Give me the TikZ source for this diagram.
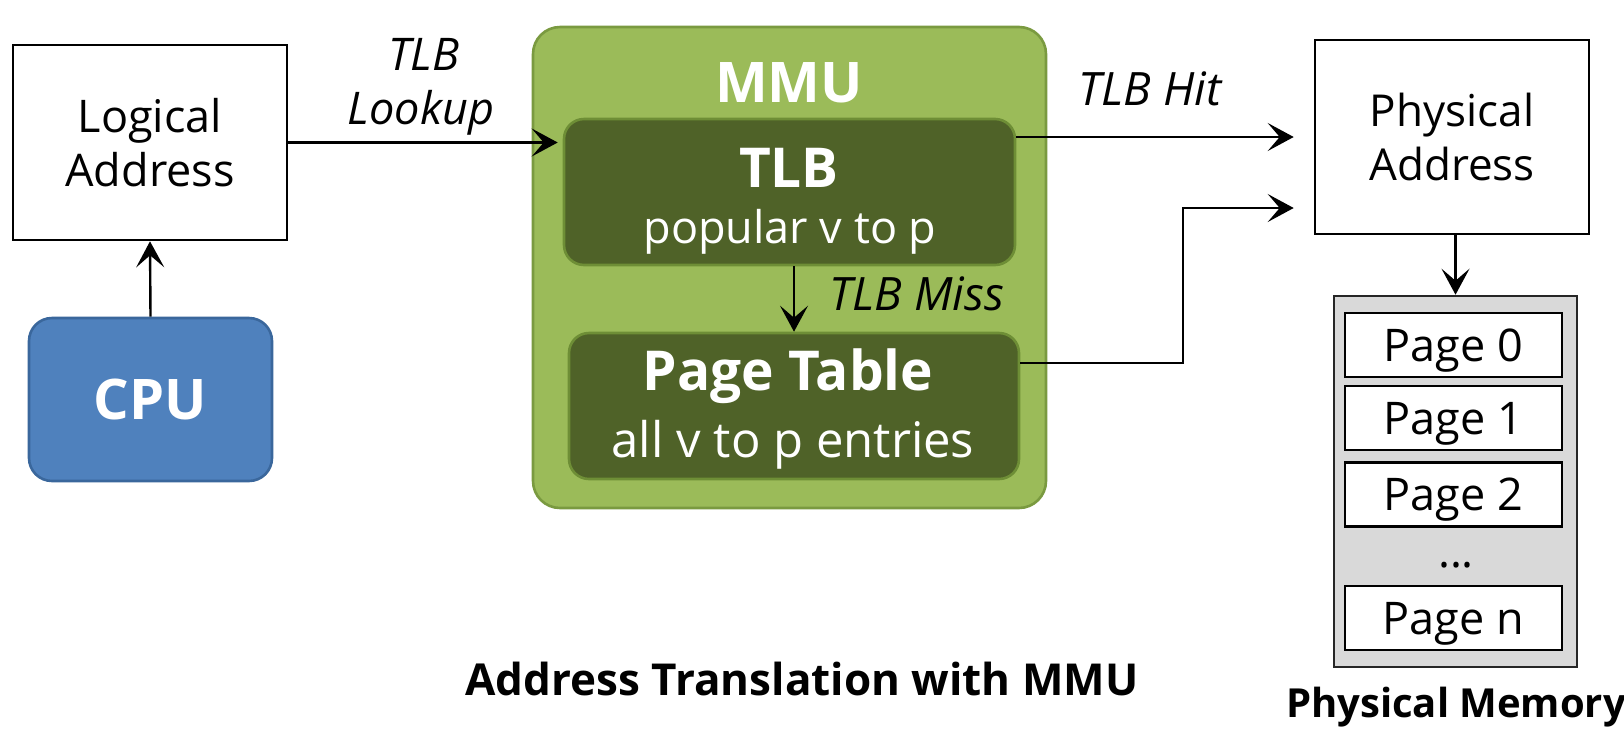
\documentclass[tikz,border=0pt]{standalone}
\usepackage{fontspec}
\setmainfont{Open Sans}
\usetikzlibrary{arrows.meta,calc}
\definecolor{cpublue}{HTML}{4F81BD}
\definecolor{cpuedge}{HTML}{3A679C}
\definecolor{mmugreen}{HTML}{9BBB59}
\definecolor{mmuedge}{HTML}{7A9A40}
\definecolor{darkolive}{HTML}{4F6228}
\definecolor{oliveedge}{HTML}{6E8E36}
\definecolor{memgray}{HTML}{D9D9D9}
\newcommand{\fsz}[1]{\fontsize{#1}{54}\selectfont}
\begin{document}
\begin{tikzpicture}[x=1pt,y=-1pt,
  plainbox/.style={draw=black, line width=2.6pt, fill=white, inner sep=0pt, align=center, font=\fsz{45}},
  cpubox/.style={draw=cpuedge, line width=2.6pt, fill=cpublue, rounded corners=23pt, inner sep=0pt, text=white, font=\bfseries\fsz{56}, text height=40pt, text depth=0pt},
  mmubox/.style={draw=mmuedge, line width=2.6pt, fill=mmugreen, rounded corners=27pt, inner sep=0pt},
  innerbox/.style={draw=oliveedge, line width=2.6pt, fill=darkolive, rounded corners=20pt, inner sep=0pt},
  membox/.style={draw=black!85, line width=2.6pt, fill=memgray, inner sep=0pt},
  pagebox/.style={draw=black, line width=2.6pt, fill=white, inner sep=0pt, minimum width=217pt, minimum height=64pt, font=\fsz{45}, text height=32pt, text depth=0pt},
  whitebold/.style={text=white, font=\bfseries\fsz{55}, anchor=base, inner sep=0pt},
  whitereg/.style={text=white, font=\fsz{45}, anchor=base, inner sep=0pt},
  itlabel/.style={font=\itshape\fsz{45}, anchor=base, inner sep=0pt},
  arr/.style={-{Stealth[length=26pt,width=28pt,inset=12pt]}, line width=2.4pt}]
\useasboundingbox (0,0) rectangle (1624,740);

% left column
\node[plainbox, minimum width=274pt, minimum height=195pt] (LA) at (150,142.5) {Logical\\Address};
\node[cpubox, minimum width=243pt, minimum height=163pt] (CPU) at (150.5,399.5) {CPU};

% MMU
\node[mmubox, minimum width=513pt, minimum height=481pt] (MMU) at (789.5,267.5) {};
\node[text=white, font=\bfseries\fsz{56}, anchor=base, inner sep=0pt] (mmulabel) at (789,102) {MMU};
\node[innerbox, minimum width=451pt, minimum height=146pt] (TLB) at (789.5,192) {};
\node[whitebold] (tlbtitle) at (789,187) {TLB};
\node[whitereg] (tlbsub) at (790,243) {popular v to p};
\node[innerbox, minimum width=450pt, minimum height=146pt] (PT) at (794,406) {};
\node[whitebold] (pttitle) at (788,390) {Page Table};
\node[whitereg, font=\fsz{49}] (ptsub) at (793,457) {all v to p entries};

% right column
\node[plainbox, font=\fsz{44}, minimum width=274pt, minimum height=194pt] (PA) at (1452,137) {Physical\\Address};
\node[membox, minimum width=243pt, minimum height=371pt] (Mem) at (1455.5,481.5) {};
\node[pagebox] (P0) at (1453.5,345) {Page 0};
\node[pagebox] (P1) at (1453.5,418) {Page 1};
\node[pagebox] (P2) at (1453.5,494.5) {Page 2};
\node[font=\fsz{45}, anchor=base, inner sep=0pt] (dots) at (1456,567) {...};
\node[pagebox] (Pn) at (1453.5,618) {Page n};

% captions
\node[font=\bfseries\fsz{40}, anchor=base, inner sep=0pt] (memcap) at (1456,717) {Physical Memory};
\node[font=\bfseries\fsz{44}, anchor=base, inner sep=0pt] (title) at (802,695) {Address Translation with MMU};

% connector labels
\node[itlabel] (lookupA) at (424,70) {TLB};
\node[itlabel] (lookupB) at (421,124) {Lookup};
\node[itlabel, font=\itshape\fsz{46}] (hitlabel) at (1150,105) {TLB Hit};
\node[itlabel, font=\itshape\fsz{46}] (misslabel) at (917,310) {TLB Miss};

% coordinates for free ends
\coordinate (hit) at ($(PA.west)+(-20,0)$);
\coordinate (miss) at ($(PA.west)+(-20,71)$);
\coordinate (ptout) at ($(PT.east)+(0,-43)$);
\coordinate (jog) at (1183,0);

% connectors
\draw[arr] (CPU.north) -- (LA.south);
\draw[arr] (LA.east) -- ($(TLB.west |- LA.east)+(-5,0)$);
\draw[arr] (PT.north |- TLB.south) -- (PT.north);
\draw[arr] (TLB.east |- hit) -- (hit);
\draw[arr] (ptout) -| (jog |- miss) -- (miss);
\draw[arr] (Mem.north |- PA.south) -- (Mem.north);
\end{tikzpicture}
\end{document}
